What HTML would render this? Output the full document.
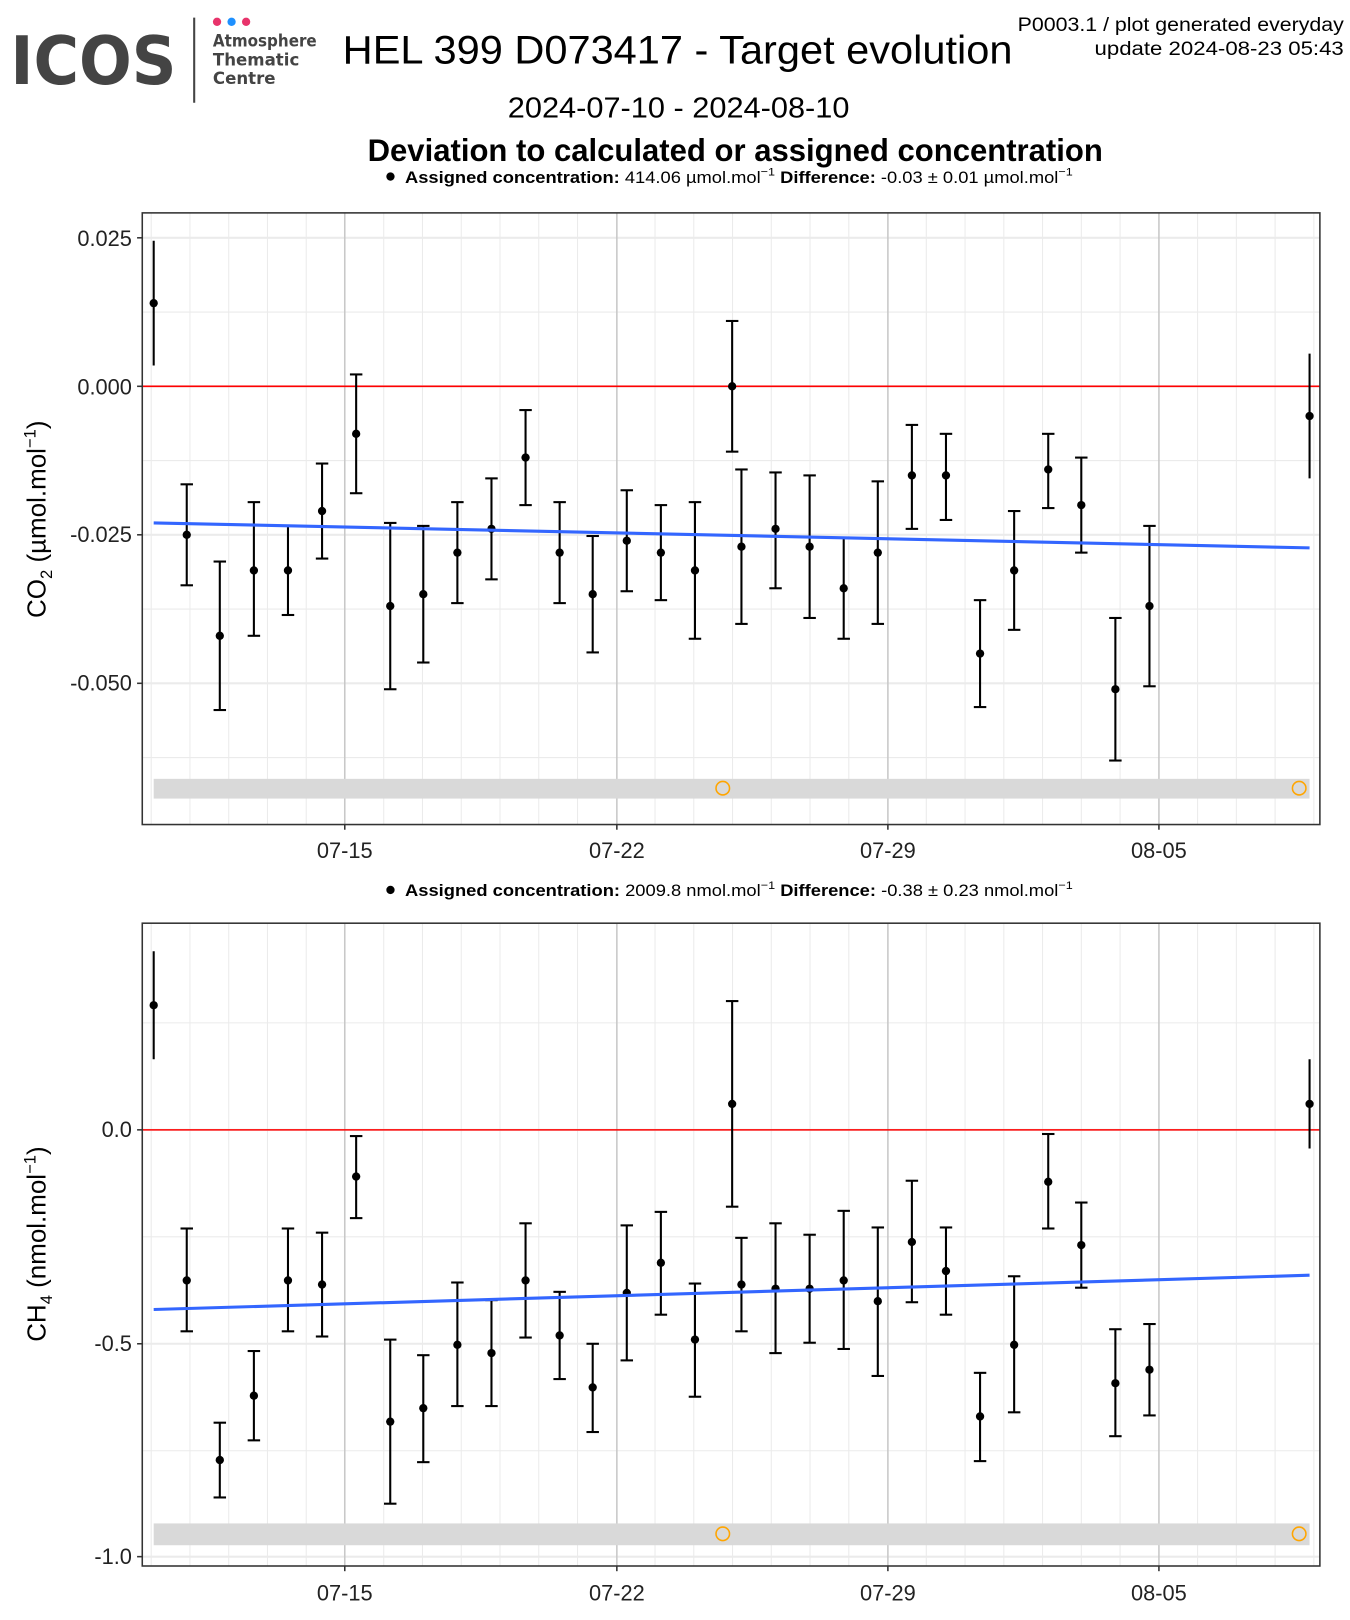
<!DOCTYPE html>
<html><head><meta charset="utf-8"><style>
html,body{margin:0;padding:0;background:#fff;}
svg{display:block;font-family:"Liberation Sans",sans-serif;}
</style></head><body>
<svg id="s" width="1350" height="1620" viewBox="0 0 1300 1560" xmlns="http://www.w3.org/2000/svg">
<rect width="1300" height="1560" fill="#fff"/>
<text x="10" y="81" font-size="64" font-weight="bold" fill="#444" font-family="DejaVu Sans, sans-serif" textLength="160" lengthAdjust="spacingAndGlyphs">ICOS</text>
<line x1="187" y1="17" x2="187" y2="99" stroke="#444" stroke-width="2"/>
<circle cx="209" cy="21" r="4" fill="#e8336b"/><circle cx="223" cy="21" r="4" fill="#1e90ff"/><circle cx="237" cy="21" r="4" fill="#e8336b"/>
<text x="205" y="45" font-size="16" font-weight="bold" fill="#444" font-family="DejaVu Sans, sans-serif" textLength="100" lengthAdjust="spacingAndGlyphs">Atmosphere</text>
<text x="205" y="63" font-size="16" font-weight="bold" fill="#444" font-family="DejaVu Sans, sans-serif">Thematic</text>
<text x="205" y="81" font-size="16" font-weight="bold" fill="#444" font-family="DejaVu Sans, sans-serif">Centre</text>
<text x="330" y="61" font-size="38" textLength="645" lengthAdjust="spacingAndGlyphs">HEL 399 D073417 - Target evolution</text>
<text x="1294" y="30" font-size="19" text-anchor="end" textLength="314" lengthAdjust="spacingAndGlyphs">P0003.1 / plot generated everyday</text>
<text x="1294" y="53" font-size="19" text-anchor="end" textLength="240" lengthAdjust="spacingAndGlyphs">update  2024-08-23 05:43</text>
<text x="489" y="113" font-size="28" textLength="329" lengthAdjust="spacingAndGlyphs">2024-07-10 - 2024-08-10</text>
<text x="354" y="155" font-size="30" font-weight="bold" textLength="708" lengthAdjust="spacingAndGlyphs">Deviation to calculated or assigned concentration</text>
<circle cx="376" cy="170" r="4"/>
<text x="390" y="176" font-size="16" textLength="643" lengthAdjust="spacingAndGlyphs"><tspan font-weight="bold">Assigned concentration:</tspan> 414.06 µmol.mol<tspan font-size="11" dy="-7">−1</tspan><tspan dy="7" font-weight="bold">  Difference:</tspan> -0.03 ± 0.01 µmol.mol<tspan font-size="11" dy="-7">−1</tspan></text>
<circle cx="376" cy="857" r="4"/>
<text x="390" y="863" font-size="16" textLength="643" lengthAdjust="spacingAndGlyphs"><tspan font-weight="bold">Assigned concentration:</tspan> 2009.8 nmol.mol<tspan font-size="11" dy="-7">−1</tspan><tspan dy="7" font-weight="bold">  Difference:</tspan> -0.38 ± 0.23 nmol.mol<tspan font-size="11" dy="-7">−1</tspan></text>
<g id="p1"></g><g id="p2"></g>
<g font-size="21" text-anchor="end" fill="#222">
<text x="127" y="237">0.025</text><text x="127" y="380">0.000</text><text x="127" y="522">-0.025</text><text x="127" y="665">-0.050</text>
<text x="127" y="1095">0.0</text><text x="127" y="1301">-0.5</text><text x="127" y="1506">-1.0</text>
</g>
<g font-size="21" text-anchor="middle" fill="#222">
<text x="332" y="826">07-15</text><text x="594" y="826">07-22</text><text x="855" y="826">07-29</text><text x="1116" y="826">08-05</text>
<text x="332" y="1541">07-15</text><text x="594" y="1541">07-22</text><text x="855" y="1541">07-29</text><text x="1116" y="1541">08-05</text>
</g>
<text transform="translate(44,500) rotate(-90)" font-size="25" text-anchor="middle">CO<tspan font-size="16" dy="6">2</tspan><tspan dy="-6"> (µmol.mol</tspan><tspan font-size="16" dy="-10">−1</tspan><tspan dy="10">)</tspan></text>
<text transform="translate(44,1198) rotate(-90)" font-size="25" text-anchor="middle">CH<tspan font-size="16" dy="6">4</tspan><tspan dy="-6"> (nmol.mol</tspan><tspan font-size="16" dy="-10">−1</tspan><tspan dy="10">)</tspan></text>
</svg>
<script>
var NS="http://www.w3.org/2000/svg";
function el(p,t,a){var e=document.createElementNS(NS,t);for(var k in a)e.setAttribute(k,a[k]);p.appendChild(e);return e;}
var xs=[148,180,212,245,278,311,344,377,409,442,475,508,541,573,606,639,672,708,717,750,783,816,849,882,915,948,981,1014,1046,1079,1112,1267].map(function(x){return 148+(x-148)*0.9947;});
var XE=xs[31];
function panel(g,top,bot,hmaj,hmin,band,circY,pts,trend,zeroY){
 var L=137,R=1271;
 for(var k=-6;k<30;k++){var x=332.2+k*37.32;if(x>L&&x<R&&k%7!=0)el(g,"line",{x1:x,x2:x,y1:top,y2:bot,stroke:"#ebebeb","stroke-width":1});}
 hmin.forEach(function(y){el(g,"line",{x1:L,x2:R,y1:y,y2:y,stroke:"#ebebeb","stroke-width":1});});
 hmaj.forEach(function(y){el(g,"line",{x1:L,x2:R,y1:y,y2:y,stroke:"#ebebeb","stroke-width":2});});
 [332,594,855,1116].forEach(function(x){el(g,"line",{x1:x,x2:x,y1:top,y2:bot,stroke:"#c8c8c8","stroke-width":1.5});});
 el(g,"rect",{x:148,y:band[0],width:XE-148,height:band[1]-band[0],fill:"#d9d9d9"});
 [696,XE-10].forEach(function(x){el(g,"circle",{cx:x,cy:circY,r:6.5,fill:"none",stroke:"#ffa500","stroke-width":1.5});});
 el(g,"line",{x1:L,x2:R,y1:zeroY,y2:zeroY,stroke:"#ff0000","stroke-width":1.5});
 pts.forEach(function(p,i){var x=xs[i];
  el(g,"line",{x1:x,x2:x,y1:p[1],y2:p[2],stroke:"#000","stroke-width":2});
  if(i>0&&i<31){el(g,"line",{x1:x-6,x2:x+6,y1:p[1],y2:p[1],stroke:"#000","stroke-width":2});el(g,"line",{x1:x-6,x2:x+6,y1:p[2],y2:p[2],stroke:"#000","stroke-width":2});}
  el(g,"circle",{cx:x,cy:p[0],r:4,fill:"#000"});});
 el(g,"line",{x1:148,x2:XE,y1:trend[0],y2:trend[1],stroke:"#3366ff","stroke-width":3});
 el(g,"rect",{x:L,y:top,width:R-L,height:bot-top,fill:"none",stroke:"#333","stroke-width":1.5});
 hmaj.forEach(function(y){el(g,"line",{x1:L-5,x2:L,y1:y,y2:y,stroke:"#333","stroke-width":1.5});});
 [332,594,855,1116].forEach(function(x){el(g,"line",{x1:x,x2:x,y1:bot,y2:bot+5,stroke:"#333","stroke-width":1.5});});
}
function cy(v){return 372-v*5720;}
var co2=[[0.014,0.0035,0.0245],[-0.025,-0.0335,-0.0165],[-0.042,-0.0545,-0.0295],[-0.031,-0.042,-0.0195],[-0.031,-0.0385,-0.0235],[-0.021,-0.029,-0.013],[-0.008,-0.018,0.002],[-0.037,-0.051,-0.023],[-0.035,-0.0465,-0.0235],[-0.028,-0.0365,-0.0195],[-0.024,-0.0325,-0.0155],[-0.012,-0.020,-0.004],[-0.028,-0.0365,-0.0195],[-0.035,-0.0448,-0.0252],[-0.026,-0.0345,-0.0175],[-0.028,-0.036,-0.020],[-0.031,-0.0425,-0.0195],[0,-0.011,0.011],[-0.027,-0.040,-0.014],[-0.024,-0.034,-0.0145],[-0.027,-0.039,-0.015],[-0.034,-0.0425,-0.0255],[-0.028,-0.040,-0.016],[-0.015,-0.024,-0.0065],[-0.015,-0.0225,-0.008],[-0.045,-0.054,-0.036],[-0.031,-0.041,-0.021],[-0.014,-0.0205,-0.008],[-0.020,-0.028,-0.012],[-0.051,-0.063,-0.039],[-0.037,-0.0505,-0.0235],[-0.005,-0.0155,0.0055]].map(function(p){return p.map(cy);});
panel(document.getElementById("p1"),205,794,[cy(0.025),cy(0),cy(-0.025),cy(-0.05)],[cy(0.0125),cy(-0.0125),cy(-0.0375),cy(-0.0625)],[750,769],759,co2,[cy(-0.023),cy(-0.0272)],cy(0));
var ch4=[[973,921,1025],[1238,1188,1287],[1411,1375,1447],[1349,1306,1392],[1238,1188,1287],[1242,1192,1292],[1138,1099,1178],[1374,1295,1453],[1361,1310,1413],[1300,1240,1359],[1308,1257,1359],[1238,1183,1293],[1291,1249,1333],[1341,1299,1384],[1250,1185,1315],[1221,1172,1271],[1295,1241,1350],[1068,969,1167],[1242,1197,1287],[1246,1183,1308],[1246,1194,1298],[1238,1171,1304],[1258,1187,1330],[1201,1142,1259],[1229,1187,1271],[1369,1327,1412],[1300,1234,1365],[1143,1097,1188],[1204,1163,1245],[1337,1285,1388],[1324,1280,1368],[1068,1025,1111]].map(function(p){return p.map(function(v){return v-5;});});
panel(document.getElementById("p2"),889,1508,[1088,1294,1499],[985,1191,1397],[1467,1488],1477,ch4,[1261,1228],1088);
</script>
</body></html>
